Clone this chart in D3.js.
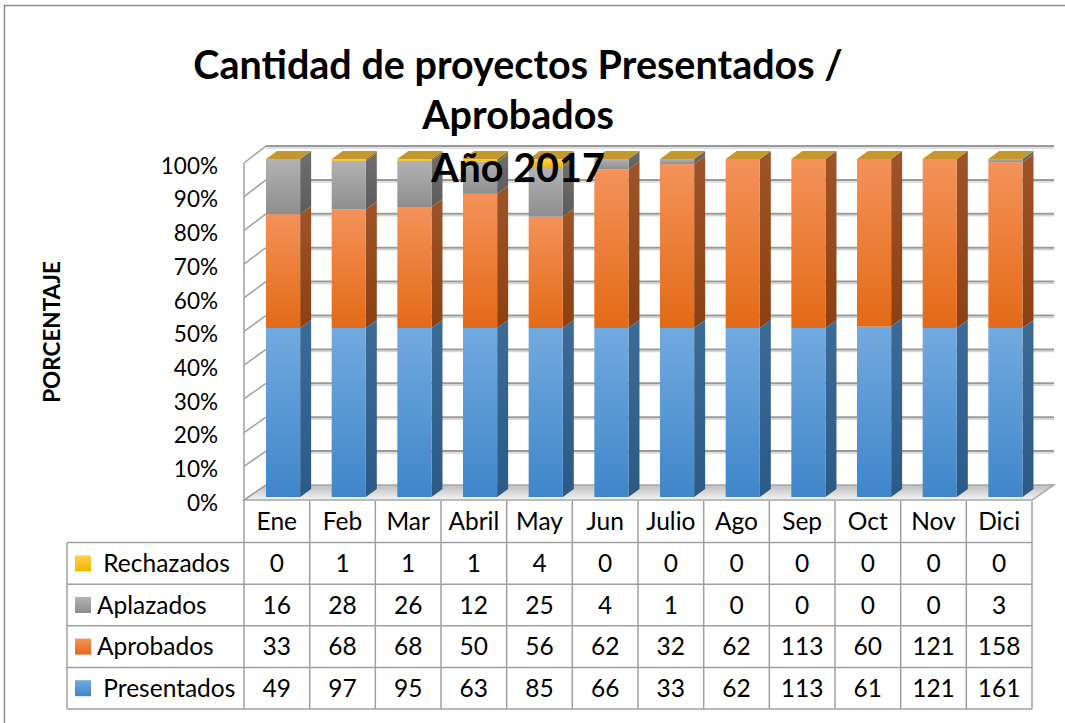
<!DOCTYPE html>
<html>
<head>
<meta charset="utf-8">
<script src="https://cdn.jsdelivr.net/npm/d3@7"></script>
<style>
  body { margin: 0; background: #fff; }
  text { font-family: Lato, "Open Sans", sans-serif; fill: #000; }
  .title { font-weight: bold; font-size: 39.5px; }
  .lbl { font-size: 24.5px; white-space: pre; }
</style>
</head>
<body>
<div id="chart"></div>
<script>
// data
var meses = ["Ene", "Feb", "Mar", "Abril", "May", "Jun", "Julio", "Ago", "Sep", "Oct", "Nov", "Dici"];
var presentados = [49, 97, 95, 63, 85, 66, 33, 62, 113, 61, 121, 161];
var aprobados   = [33, 68, 68, 50, 56, 62, 32, 62, 113, 60, 121, 158];
var aplazados   = [16, 28, 26, 12, 25, 4, 1, 0, 0, 0, 0, 3];
var rechazados  = [0, 1, 1, 1, 4, 0, 0, 0, 0, 0, 0, 0];
var serieKeys   = ["Presentados", "Aprobados", "Aplazados", "Rechazados"];
var serieLabels = [" Presentados", "Aprobados", "Aplazados", " Rechazados"];
var titulo = ["Cantidad de proyectos Presentados /", "Aprobados", "Año 2017"];
var ejeY = "PORCENTAJE";

var W = 1065, H = 723;

var svg = d3.select("#chart").append("svg")
    .attr("width", W)
    .attr("height", H);

var defs = svg.append("defs");

// colours per series: front (top,bottom), side (top,bottom), top face
var colors = {
  Presentados: {f: ["#72aadf", "#3f86ca"], s: ["#3d6b98", "#2c5a86"], t: "#8fbce6"},
  Aprobados:   {f: ["#f4925a", "#e36a16"], s: ["#9e5429", "#8d4010"], t: "#f7a779"},
  Aplazados:   {f: ["#b2b2b2", "#8e8e8e"], s: ["#6f6f6f", "#5c5c5c"], t: "#c4c4c4"},
  Rechazados:  {f: ["#ffd34f", "#f2b300"], s: ["#9e7a10", "#8c6a05"], t: "#c4982e"}
};

function grad(id, c1, c2, vertical) {
  var g = defs.append("linearGradient").attr("id", id)
      .attr("x1", 0).attr("y1", 0)
      .attr("x2", vertical ? 0 : 1).attr("y2", vertical ? 1 : 0);
  g.append("stop").attr("offset", "0%").attr("stop-color", c1);
  g.append("stop").attr("offset", "100%").attr("stop-color", c2);
}
serieKeys.forEach(function(k) {
  grad("f_" + k, colors[k].f[0], colors[k].f[1], true);
  grad("s_" + k, colors[k].s[0], colors[k].s[1], true);
});
grad("floorG", "#bdbdbd", "#f4f4f4", true);

// frame
svg.append("rect")
    .attr("x", 4.5).attr("y", 5.5)
    .attr("width", 1080).attr("height", 730)
    .attr("fill", "none")
    .attr("stroke", "#8c8c8c")
    .attr("stroke-width", 1.5);

// scales
var x = d3.scaleBand().domain(meses).range([244, 1032]);
var yFront = d3.scaleLinear().domain([0, 1]).range([500, 163]);
var yBack = d3.scaleLinear().domain([0, 1]).range([485, 146]);
var yBar = d3.scaleLinear().domain([0, 1]).range([497, 159]);
var wall = {dx: 22, dy: -15};
var deep = {dx: 11, dy: -8};
var barOff = x.bandwidth() * 0.335, barW = x.bandwidth() * 0.52;

var plot = svg.append("g");

// floor
var x0 = x.range()[0], x1 = x.range()[1];
plot.append("path")
    .attr("d", "M" + x0 + "," + yFront(0) + "L" + x1 + "," + yFront(0) +
               "L" + (x1 + wall.dx) + "," + yBack(0) + "L" + (x0 + wall.dx) + "," + yBack(0) + "Z")
    .attr("fill", "url(#floorG)")
    .attr("stroke", "#a6a6a6")
    .attr("stroke-width", 1.5);

// gridlines on back wall + left wall
var ticks = yBack.ticks(10);
var grid = plot.append("g");
ticks.forEach(function(t) {
  if (t > 0) {
    grid.append("line")
      .attr("x1", x0 + wall.dx).attr("x2", x1 + wall.dx)
      .attr("y1", yBack(t) + 2).attr("y2", yBack(t) + 2)
      .attr("stroke", "#d6d6d6").attr("stroke-width", 1.5);
    grid.append("line")
      .attr("x1", x0 + wall.dx).attr("x2", x1 + wall.dx)
      .attr("y1", yBack(t)).attr("y2", yBack(t))
      .attr("stroke", "#9a9a9a").attr("stroke-width", 2);
  }
  grid.append("line")
    .attr("x1", x0).attr("x2", x0 + wall.dx)
    .attr("y1", yFront(t)).attr("y2", yBack(t))
    .attr("stroke", "#a0a0a0").attr("stroke-width", 1.5);
});
grid.append("line")
    .attr("x1", x0).attr("x2", x0)
    .attr("y1", yFront(1)).attr("y2", yFront(0) + 1)
    .attr("stroke", "#a0a0a0").attr("stroke-width", 1.5);

// stacked 100% data
var rows = meses.map(function(m, i) {
  return {mes: m, Presentados: presentados[i], Aprobados: aprobados[i],
          Aplazados: aplazados[i], Rechazados: rechazados[i]};
});
var stack = d3.stack().keys(serieKeys).offset(d3.stackOffsetExpand)(rows);

var bars = plot.append("g");
meses.forEach(function(m, i) {
  var bx = x(m) + barOff;
  var g = bars.append("g");
  stack.forEach(function(s) {
    var k = s.key, lo = s[i][0], hi = s[i][1];
    if (hi - lo <= 0) return;
    var yt = yBar(hi), yb = yBar(lo);
    g.append("path")
      .attr("d", "M" + (bx + barW) + "," + yb + "L" + (bx + barW + deep.dx) + "," + (yb + deep.dy) +
                 "L" + (bx + barW + deep.dx) + "," + (yt + deep.dy) + "L" + (bx + barW) + "," + yt + "Z")
      .attr("fill", "url(#s_" + k + ")");
    g.append("rect")
      .attr("x", bx).attr("y", yt)
      .attr("width", barW).attr("height", yb - yt)
      .attr("fill", "url(#f_" + k + ")");
  });
  // top face of the stack (last series on top)
  var top = stack[stack.length - 1][i][1];
  var yt = yBar(top);
  g.append("path")
    .attr("d", "M" + bx + "," + yt + "L" + (bx + barW) + "," + yt +
               "L" + (bx + barW + deep.dx) + "," + (yt + deep.dy) + "L" + (bx + deep.dx) + "," + (yt + deep.dy) + "Z")
    .attr("fill", colors.Rechazados.t);
});

// y axis labels
var yAxis = svg.append("g")
    .attr("transform", "translate(240,3)")
    .call(d3.axisLeft(yFront).ticks(10).tickFormat(d3.format(".0%")).tickSize(0).tickPadding(22));
yAxis.select(".domain").remove();
yAxis.selectAll("text")
    .style("font-family", "Lato, 'Open Sans', sans-serif")
    .style("font-size", "22.5px")
    .attr("fill", "#000");

// y axis title
svg.append("text")
    .attr("transform", "translate(60,332) rotate(-90)")
    .attr("text-anchor", "middle")
    .style("font-weight", "bold")
    .style("font-size", "22.5px")
    .text(ejeY);

// data table
var rowH = 41.6, tTop = yFront(0) + 1, legX = 67;
var tableSeries = serieKeys.slice().reverse();
var tableLabels = serieLabels.slice().reverse();
var tableVals = {Presentados: presentados, Aprobados: aprobados, Aplazados: aplazados, Rechazados: rechazados};
var tab = svg.append("g");
var lineCol = "#a0a0a0";

// header (months)
meses.forEach(function(m) {
  tab.append("text")
    .attr("class", "lbl")
    .attr("x", x(m) + x.bandwidth() / 2)
    .attr("y", tTop + rowH / 2)
    .attr("dy", "0.35em")
    .attr("text-anchor", "middle")
    .text(m);
});

tableSeries.forEach(function(k, r) {
  var yc = tTop + rowH * (r + 1) + rowH / 2;
  tab.append("rect")
    .attr("x", 75).attr("y", yc - 8)
    .attr("width", 16).attr("height", 16)
    .attr("fill", "url(#f_" + k + ")");
  tab.append("text")
    .attr("class", "lbl")
    .attr("x", 97)
    .attr("y", yc)
    .attr("dy", "0.35em")
    .attr("xml:space", "preserve")
    .text(tableLabels[r]);
  tableVals[k].forEach(function(v, i) {
    tab.append("text")
      .attr("class", "lbl")
      .attr("x", x(meses[i]) + x.bandwidth() / 2)
      .attr("y", yc)
      .attr("dy", "0.35em")
      .attr("text-anchor", "middle")
      .text(v);
  });
});

// table lines
var tBot = tTop + rowH * 5;
for (var r = 1; r <= 5; r++) {
  tab.append("line")
    .attr("x1", legX).attr("x2", x1)
    .attr("y1", tTop + rowH * r).attr("y2", tTop + rowH * r)
    .attr("stroke", lineCol).attr("stroke-width", 1.5);
}
tab.append("line")
  .attr("x1", legX).attr("x2", legX)
  .attr("y1", tTop + rowH).attr("y2", tBot)
  .attr("stroke", lineCol).attr("stroke-width", 1.5);
x.domain().concat(["end"]).forEach(function(m) {
  var xx = m === "end" ? x1 : x(m);
  tab.append("line")
    .attr("x1", xx).attr("x2", xx)
    .attr("y1", tTop).attr("y2", tBot)
    .attr("stroke", lineCol).attr("stroke-width", 1.5);
});

// title (drawn on top of the bars)
var tt = svg.append("g");
var tY = [79, 129, 182];
titulo.forEach(function(t, i) {
  tt.append("text")
    .attr("class", "title")
    .attr("x", 518)
    .attr("y", tY[i])
    .attr("text-anchor", "middle")
    .text(t);
});
</script>
</body>
</html>
